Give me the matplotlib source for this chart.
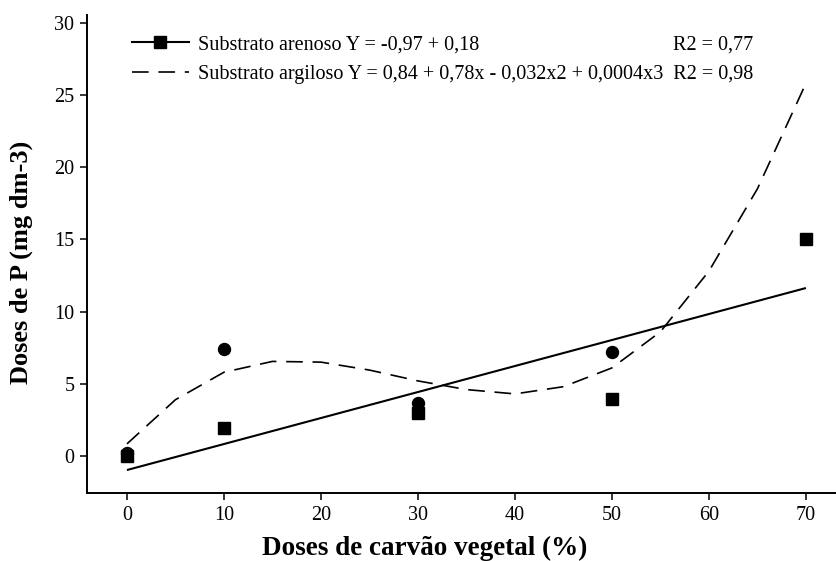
import matplotlib
matplotlib.use("Agg")
import matplotlib.pyplot as plt
from matplotlib.lines import Line2D


# data
doses = [0, 10, 30, 50, 70]
sandy_p = [0.0, 1.95, 3.0, 3.95, 15.05]

clay_doses = [0, 10, 30, 50]
clay_p = [0.2, 7.4, 3.7, 7.2]

# fitted lines as drawn
sandy_fit_x = [0, 70]
sandy_fit_y = [-0.97, 11.63]

clay_fit_x = [0, 5, 10, 15, 20, 25, 30, 35, 40, 45, 50, 55, 60, 65, 70]
clay_fit_y = [0.84, 3.9, 5.8, 6.55, 6.5, 5.95, 5.2, 4.6, 4.3, 4.8, 6.1, 8.6, 12.8, 18.5, 25.8]

x_ticks = [0, 10, 20, 30, 40, 50, 60, 70]
y_ticks = [0, 5, 10, 15, 20, 25, 30]

sandy_label = "Substrato arenoso Y = -0,97 + 0,18"
clay_label = "Substrato argiloso Y = 0,84 + 0,78x - 0,032x2 + 0,0004x3  R2 = 0,98"
sandy_r2 = "R2 = 0,77"


plt.rcParams["font.family"] = ["Liberation Serif", "DejaVu Serif"]
plt.rcParams["lines.scale_dashes"] = False

W, H = 837, 561
fig = plt.figure(figsize=(W / 100, H / 100), dpi=100)
ax = fig.add_axes([87 / W, 1 - 493 / H, (836 - 87) / W, (493 - 15) / H])

dash = (0, (12, 7))

#fit lines
ax.plot(sandy_fit_x, sandy_fit_y, color="black", lw=1.5, solid_capstyle="butt")
ax.plot(clay_fit_x, clay_fit_y, color="black", lw=1.2, linestyle=dash)

#observed points
ax.plot(clay_doses, clay_p, "o", color="black", ms=8.6, zorder=3)
ax.plot(doses, sandy_p, "s", color="black", ms=8.4, zorder=4)

#axes look
ax.set_xlim(-4.12, 73.1)
ax.set_ylim(-2.56, 30.53)
ax.set_xticks(x_ticks)
ax.set_yticks(y_ticks)
for side in ["top", "right"]:
    ax.spines[side].set_visible(False)
for side in ["left", "bottom"]:
    ax.spines[side].set_linewidth(1.4)
ax.tick_params(direction="out", length=5, width=1.1, labelsize=14.5, pad=4)

ax.set_xlabel("Doses de carvão vegetal (%)", fontsize=19.5, fontweight="bold")
ax.xaxis.set_label_coords(0.451, -0.09)
ax.set_ylabel("Doses de P (mg dm-3)", fontsize=19, fontweight="bold")
ax.yaxis.set_label_coords(-0.072, 0.483)

#legend
handles = [
    Line2D([], [], color="black", lw=1.5, marker="s", ms=8.4),
    Line2D([], [], color="black", lw=1.2, linestyle=dash),
]
leg = ax.legend(handles, [sandy_label, clay_label], loc="upper left",
                bbox_to_anchor=(132 / W, 1 - 35 / H), bbox_transform=fig.transFigure,
                frameon=False, fontsize=14.5, handlelength=2.83, handletextpad=0.45,
                labelspacing=0.53, borderpad=0, borderaxespad=0)

#R2 of the first line, right aligned with the end of the second label
fig.canvas.draw()
renderer = fig.canvas.get_renderer()
texts = leg.get_texts()
right = texts[1].get_window_extent(renderer).x1
row1 = texts[0].get_window_extent(renderer)
fig.text(right / W, (row1.y0 + row1.y1) / 2 / H, sandy_r2, ha="right", va="center",
         fontsize=14.5)

fig.savefig("out.png", dpi=100)
